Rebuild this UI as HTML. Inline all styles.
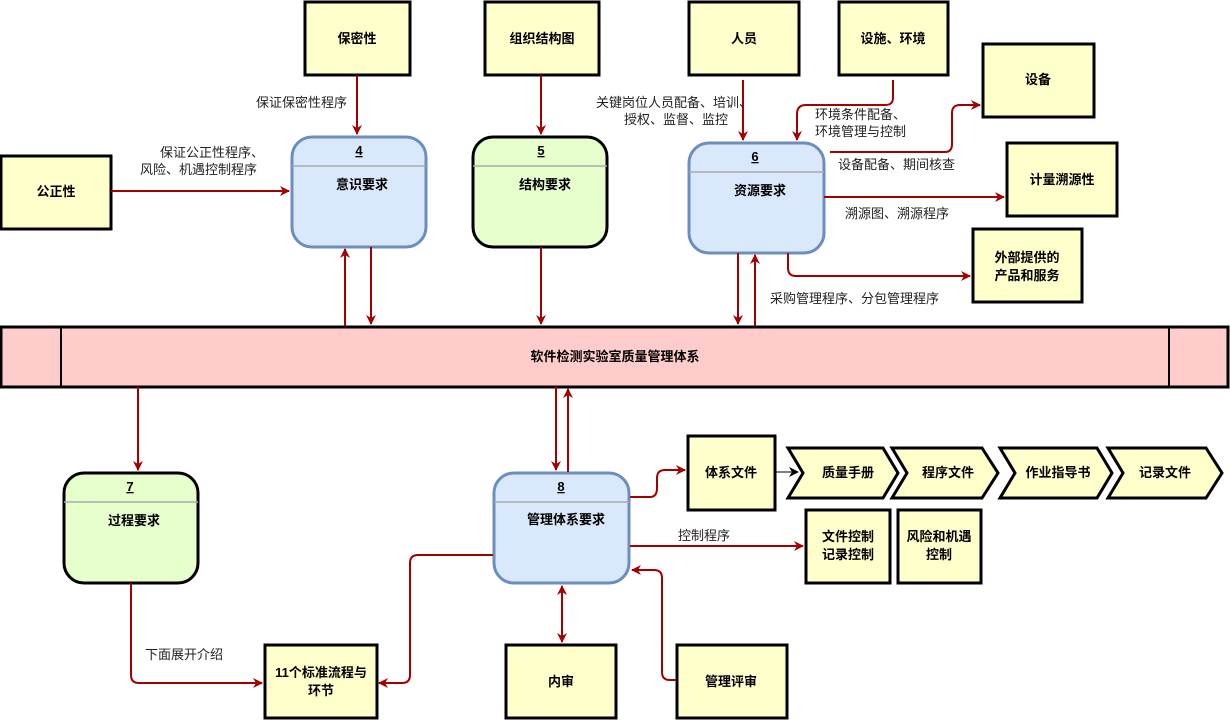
<!DOCTYPE html>
<html><head><meta charset="utf-8"><style>
html,body{margin:0;padding:0;background:#fff;}
svg{display:block;font-family:"Liberation Sans","Noto Sans CJK SC",sans-serif;}
.b{font-weight:bold;font-size:13px;fill:#000;}
.l{font-size:13px;fill:#222;}
.y{fill:#ffffcc;stroke:#000;stroke-width:3;}
.a{fill:none;stroke:#a50000;stroke-width:2;}
</style></head><body>
<svg width="1230" height="720" viewBox="0 0 1230 720" xmlns="http://www.w3.org/2000/svg">
<defs>
<marker id="ar" markerWidth="10" markerHeight="10" refX="9" refY="5" orient="auto" markerUnits="userSpaceOnUse">
<path d="M0,0 L10,5 L0,10 L3,5 Z" fill="#a50000"/></marker>
<marker id="as" markerWidth="10" markerHeight="10" refX="1" refY="5" orient="auto" markerUnits="userSpaceOnUse">
<path d="M10,0 L0,5 L10,10 L7,5 Z" fill="#a50000"/></marker>
<marker id="ak" markerWidth="10" markerHeight="10" refX="9" refY="5" orient="auto" markerUnits="userSpaceOnUse">
<path d="M0,0 L10,5 L0,10 L3,5 Z" fill="#000"/></marker>
</defs>

<!-- yellow boxes -->
<rect class="y" x="305" y="2" width="105" height="73"/><text class="b" x="357" y="43" text-anchor="middle">保密性</text>
<rect class="y" x="485" y="2" width="114" height="73"/><text class="b" x="542" y="43" text-anchor="middle">组织结构图</text>
<rect class="y" x="689" y="2" width="110" height="73"/><text class="b" x="744" y="43" text-anchor="middle">人员</text>
<rect class="y" x="839" y="2" width="109" height="73"/><text class="b" x="893" y="43" text-anchor="middle">设施、环境</text>
<rect class="y" x="983" y="44" width="111" height="73"/><text class="b" x="1038" y="84" text-anchor="middle">设备</text>
<rect class="y" x="1007" y="143" width="110" height="73"/><text class="b" x="1062" y="184" text-anchor="middle">计量溯源性</text>
<rect class="y" x="973" y="229" width="109" height="73"/><text class="b" x="1027" y="262" text-anchor="middle">外部提供的</text><text class="b" x="1027" y="280" text-anchor="middle">产品和服务</text>
<rect class="y" x="1" y="156" width="110" height="73"/><text class="b" x="56" y="196" text-anchor="middle">公正性</text>

<!-- process 4 -->
<rect x="292" y="137" width="134" height="110" rx="20" fill="#dae8fc" stroke="#6c8ebf" stroke-width="3"/>
<line x1="292" y1="166" x2="426" y2="166" stroke="#aaa" stroke-width="1.5"/>
<text class="b" x="359" y="155" text-anchor="middle" text-decoration="underline">4</text>
<text class="b" x="362" y="189" text-anchor="middle">意识要求</text>
<!-- process 5 -->
<rect x="473" y="137" width="134" height="110" rx="20" fill="#e6ffcc" stroke="#000" stroke-width="3"/>
<line x1="473" y1="166" x2="607" y2="166" stroke="#aaa" stroke-width="1.5"/>
<text class="b" x="541" y="155" text-anchor="middle" text-decoration="underline">5</text>
<text class="b" x="545" y="189" text-anchor="middle">结构要求</text>
<!-- process 6 -->
<rect x="689" y="143" width="135" height="110" rx="20" fill="#dae8fc" stroke="#6c8ebf" stroke-width="3"/>
<line x1="689" y1="172" x2="824" y2="172" stroke="#aaa" stroke-width="1.5"/>
<text class="b" x="755" y="161" text-anchor="middle" text-decoration="underline">6</text>
<text class="b" x="760" y="195" text-anchor="middle">资源要求</text>

<!-- bar -->
<rect x="1" y="327" width="1227" height="60" fill="#ffcccc" stroke="#000" stroke-width="3"/>
<line x1="61" y1="327" x2="61" y2="387" stroke="#000" stroke-width="2"/>
<line x1="1169" y1="327" x2="1169" y2="387" stroke="#000" stroke-width="2"/>
<text class="b" x="615" y="361" text-anchor="middle">软件检测实验室质量管理体系</text>

<!-- process 7 -->
<rect x="64" y="473" width="134" height="110" rx="20" fill="#e6ffcc" stroke="#000" stroke-width="3"/>
<line x1="64" y1="502" x2="198" y2="502" stroke="#aaa" stroke-width="1.5"/>
<text class="b" x="130" y="491" text-anchor="middle" text-decoration="underline">7</text>
<text class="b" x="134" y="525" text-anchor="middle">过程要求</text>
<!-- process 8 -->
<rect x="494" y="473" width="135" height="110" rx="20" fill="#dae8fc" stroke="#6c8ebf" stroke-width="3"/>
<line x1="494" y1="502" x2="629" y2="502" stroke="#aaa" stroke-width="1.5"/>
<text class="b" x="561" y="491" text-anchor="middle" text-decoration="underline">8</text>
<text class="b" x="566" y="524" text-anchor="middle">管理体系要求</text>

<!-- lower boxes -->
<rect class="y" x="688" y="436" width="87" height="74"/><text class="b" x="731" y="477" text-anchor="middle">体系文件</text>
<g stroke="#000" stroke-width="3" fill="#ffffcc">
<path d="M788,448 L883,448 L898,473 L883,498 L788,498 L803,473 Z"/>
<path d="M892,448 L982,448 L998,473 L982,498 L892,498 L907,473 Z"/>
<path d="M1000,448 L1097,448 L1112,473 L1097,498 L1000,498 L1015,473 Z"/>
<path d="M1108,448 L1206,448 L1222,473 L1206,498 L1108,498 L1123,473 Z"/>
</g>
<text class="b" x="848" y="477" text-anchor="middle">质量手册</text>
<text class="b" x="948" y="477" text-anchor="middle">程序文件</text>
<text class="b" x="1058" y="477" text-anchor="middle">作业指导书</text>
<text class="b" x="1165" y="477" text-anchor="middle">记录文件</text>
<rect class="y" x="806" y="510" width="84" height="73"/><text class="b" x="848" y="541" text-anchor="middle">文件控制</text><text class="b" x="848" y="559" text-anchor="middle">记录控制</text>
<rect class="y" x="898" y="510" width="83" height="73"/><text class="b" x="939" y="541" text-anchor="middle">风险和机遇</text><text class="b" x="939" y="559" text-anchor="middle">控制</text>
<rect class="y" x="265" y="645" width="112" height="73"/><text class="b" x="321" y="677" text-anchor="middle">11个标准流程与</text><text class="b" x="321" y="695" text-anchor="middle">环节</text>
<rect class="y" x="506" y="645" width="110" height="73"/><text class="b" x="561" y="686" text-anchor="middle">内审</text>
<rect class="y" x="677" y="645" width="110" height="73"/><text class="b" x="731" y="686" text-anchor="middle">管理评审</text>

<!-- arrows -->
<path class="a" d="M357,75 L357,134" marker-end="url(#ar)"/>
<path class="a" d="M541,75 L541,134" marker-end="url(#ar)"/>
<path class="a" d="M743,80 L743,140" marker-end="url(#ar)"/>
<path class="a" d="M893,80 L893,98 Q893,105 885,105 L806,105 Q797,105 797,114 L797,140" marker-end="url(#ar)"/>
<path class="a" d="M830,152 L945,152 Q952,152 952,144 L952,113 Q952,105 960,105 L980,105" marker-end="url(#ar)"/>
<path class="a" d="M824,197 L1004,197" marker-end="url(#ar)"/>
<path class="a" d="M788,253 L788,268 Q788,276 796,276 L970,276" marker-end="url(#ar)"/>
<path class="a" d="M111,191 L289,191" marker-end="url(#ar)"/>
<path class="a" d="M345,326 L345,249" marker-end="url(#ar)"/>
<path class="a" d="M371,247 L371,324" marker-end="url(#ar)"/>
<path class="a" d="M541,247 L541,324" marker-end="url(#ar)"/>
<path class="a" d="M738,253 L738,324" marker-end="url(#ar)"/>
<path class="a" d="M755,326 L755,255" marker-end="url(#ar)"/>
<path class="a" d="M138,387 L138,470" marker-end="url(#ar)"/>
<path class="a" d="M556,387 L556,470" marker-end="url(#ar)"/>
<path class="a" d="M568,472 L568,389" marker-end="url(#ar)"/>
<path class="a" d="M131,583 L131,675 Q131,683 139,683 L262,683" marker-end="url(#ar)"/>
<path class="a" d="M493,555 L418,555 Q410,555 410,563 L410,675 Q410,683 402,683 L379,683" marker-end="url(#ar)"/>
<path class="a" d="M630,497 L650,497 Q657,497 657,488 L657,478 Q657,470 665,470 L685,470" marker-end="url(#ar)"/>
<path d="M775,472 L798,472" stroke="#000" stroke-width="1" fill="none" marker-end="url(#ak)"/>
<path class="a" d="M630,546 L803,546" marker-end="url(#ar)"/>
<path class="a" d="M562,586 L562,642" marker-start="url(#as)" marker-end="url(#ar)"/>
<path class="a" d="M676,680 L670,680 Q662,680 662,672 L662,578 Q662,570 654,570 L632,570" marker-end="url(#ar)"/>

<!-- labels -->
<text class="l" x="347" y="107" text-anchor="end">保证保密性程序</text>
<text class="l" x="264" y="157" text-anchor="end">保证公正性程序、</text>
<text class="l" x="257" y="174" text-anchor="end">风险、机遇控制程序</text>
<text class="l" x="752" y="107" text-anchor="end">关键岗位人员配备、培训、</text>
<text class="l" x="728" y="124" text-anchor="end">授权、监督、监控</text>
<text class="l" x="815" y="119">环境条件配备、</text>
<text class="l" x="815" y="136">环境管理与控制</text>
<text class="l" x="838" y="169">设备配备、期间核查</text>
<text class="l" x="845" y="218">溯源图、溯源程序</text>
<text class="l" x="770" y="303">采购管理程序、分包管理程序</text>
<text class="l" x="145" y="659">下面展开介绍</text>
<text class="l" x="678" y="540">控制程序</text>
</svg>
</body></html>
